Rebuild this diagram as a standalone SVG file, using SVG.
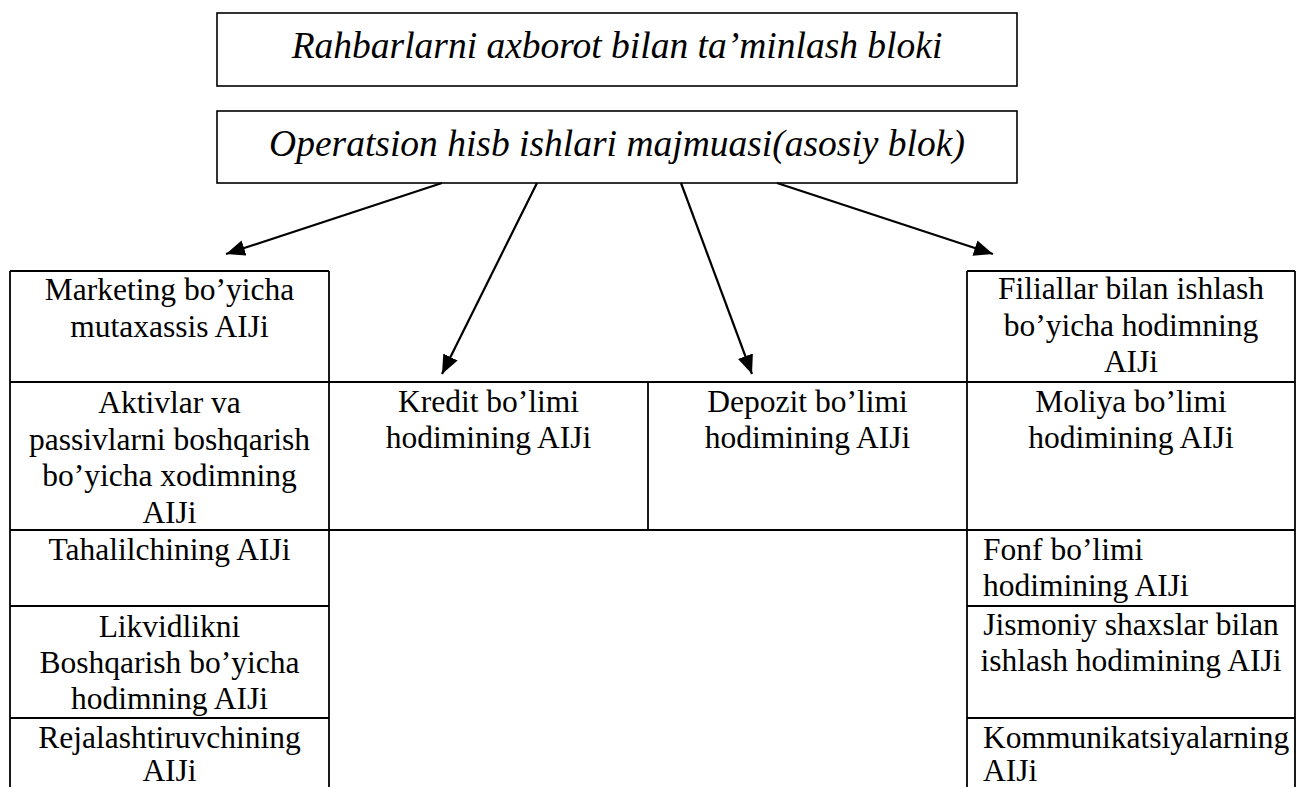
<svg xmlns="http://www.w3.org/2000/svg" width="1296" height="787" viewBox="0 0 1296 787">
  <style>
    .box { fill: #fff; stroke: #000; stroke-width: 1.6; }
    .grid { stroke: #000; stroke-width: 1.8; fill: none; }
    .conn { stroke: #000; stroke-width: 2.2; fill: none; }
    .title { font-family: "Liberation Serif", "Times New Roman", serif; font-style: italic; font-size: 37.5px; fill: #000; text-anchor: middle; }
    .lbl { font-family: "Liberation Serif", "Times New Roman", serif; font-size: 31.5px; fill: #000; text-anchor: middle; }
    .lbl-l { font-family: "Liberation Serif", "Times New Roman", serif; font-size: 31.5px; fill: #000; text-anchor: start; }
  </style>
  <defs>
    <marker id="arrow" markerUnits="userSpaceOnUse" markerWidth="20" markerHeight="16" refX="19" refY="8" orient="auto">
      <path d="M0,0 L19,8 L0,16 z" fill="#000"/>
    </marker>
  </defs>

  <rect width="1296" height="787" fill="#fff"/>

  <!-- top blocks -->
  <g id="info-block">
    <rect class="box" x="217" y="13" width="800" height="73"/>
    <text class="title" x="617" y="58">Rahbarlarni axborot bilan ta’minlash bloki</text>
  </g>
  <g id="main-block">
    <rect class="box" x="217" y="111" width="800" height="72"/>
    <text class="title" x="617" y="156">Operatsion hisb ishlari majmuasi(asosiy blok)</text>
  </g>

  <!-- connectors -->
  <g id="connectors">
    <line class="conn" x1="442" y1="183" x2="226" y2="254" marker-end="url(#arrow)"/>
    <line class="conn" x1="537" y1="183" x2="442" y2="374" marker-end="url(#arrow)"/>
    <line class="conn" x1="681" y1="183" x2="752" y2="374" marker-end="url(#arrow)"/>
    <line class="conn" x1="777" y1="183" x2="993" y2="254" marker-end="url(#arrow)"/>
  </g>

  <!-- table grid -->
  <g id="table-grid">
    <!-- left column -->
    <line class="grid" x1="10" y1="271" x2="329" y2="271"/>
    <line class="grid" x1="10" y1="271" x2="10" y2="787"/>
    <line class="grid" x1="329" y1="271" x2="329" y2="787"/>
    <!-- right column -->
    <line class="grid" x1="967" y1="271" x2="1295" y2="271"/>
    <line class="grid" x1="967" y1="271" x2="967" y2="787"/>
    <line class="grid" x1="1295" y1="271" x2="1295" y2="787"/>
    <!-- full-width rows -->
    <line class="grid" x1="10" y1="382" x2="1295" y2="382"/>
    <line class="grid" x1="10" y1="530" x2="1295" y2="530"/>
    <!-- middle divider -->
    <line class="grid" x1="648" y1="382" x2="648" y2="530"/>
    <!-- lower rows, side columns only -->
    <line class="grid" x1="10" y1="606" x2="329" y2="606"/>
    <line class="grid" x1="967" y1="606" x2="1295" y2="606"/>
    <line class="grid" x1="10" y1="718" x2="329" y2="718"/>
    <line class="grid" x1="967" y1="718" x2="1295" y2="718"/>
  </g>

  <!-- left column cells -->
  <g id="marketing">
    <text class="lbl" x="169.5" y="300">Marketing bo’yicha</text>
    <text class="lbl" x="169.5" y="336.5">mutaxassis AIJi</text>
  </g>
  <g id="aktivlar">
    <text class="lbl" x="169.5" y="413">Aktivlar va</text>
    <text class="lbl" x="169.5" y="449.5">passivlarni boshqarish</text>
    <text class="lbl" x="169.5" y="486">bo’yicha xodimning</text>
    <text class="lbl" x="169.5" y="522.5">AIJi</text>
  </g>
  <g id="tahlilchi">
    <text class="lbl" x="169.5" y="560">Tahalilchining AIJi</text>
  </g>
  <g id="likvidlik">
    <text class="lbl" x="169.5" y="637">Likvidlikni</text>
    <text class="lbl" x="169.5" y="673">Boshqarish bo’yicha</text>
    <text class="lbl" x="169.5" y="709">hodimning AIJi</text>
  </g>
  <g id="rejalashtiruvchi">
    <text class="lbl" x="169.5" y="748">Rejalashtiruvchining</text>
    <text class="lbl" x="169.5" y="781">AIJi</text>
  </g>

  <!-- middle cells -->
  <g id="kredit">
    <text class="lbl" x="488.5" y="412">Kredit bo’limi</text>
    <text class="lbl" x="488.5" y="448">hodimining AIJi</text>
  </g>
  <g id="depozit">
    <text class="lbl" x="807.5" y="412">Depozit bo’limi</text>
    <text class="lbl" x="807.5" y="448">hodimining AIJi</text>
  </g>

  <!-- right column cells -->
  <g id="filiallar">
    <text class="lbl" x="1131" y="299">Filiallar bilan ishlash</text>
    <text class="lbl" x="1131" y="336">bo’yicha hodimning</text>
    <text class="lbl" x="1131" y="372">AIJi</text>
  </g>
  <g id="moliya">
    <text class="lbl" x="1131" y="412">Moliya bo’limi</text>
    <text class="lbl" x="1131" y="448">hodimining AIJi</text>
  </g>
  <g id="fond">
    <text class="lbl-l" x="983" y="560">Fonf bo’limi</text>
    <text class="lbl-l" x="983" y="596">hodimining AIJi</text>
  </g>
  <g id="jismoniy">
    <text class="lbl" x="1131" y="635">Jismoniy shaxslar bilan</text>
    <text class="lbl" x="1131" y="671">ishlash hodimining AIJi</text>
  </g>
  <g id="kommunikatsiya">
    <text class="lbl-l" x="983" y="748">Kommunikatsiyalarning</text>
    <text class="lbl-l" x="983" y="781">AIJi</text>
  </g>
</svg>
